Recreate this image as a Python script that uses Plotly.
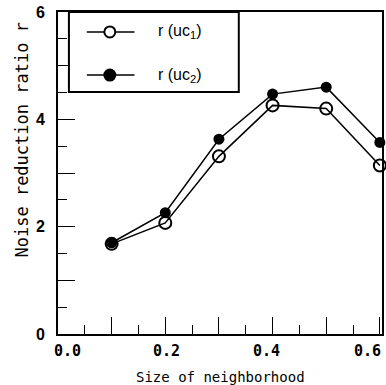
import plotly.graph_objects as go

# data
sizes = [0.1, 0.2, 0.3, 0.4, 0.5, 0.6]
r_uc1 = [1.68, 2.07, 3.31, 4.26, 4.20, 3.14]
r_uc2 = [1.70, 2.26, 3.63, 4.47, 4.60, 3.57]
x_tick_labels = ["0.0", "0.2", "0.4", "0.6"]
x_tick_vals = [0.0, 0.2, 0.4, 0.6]
y_tick_labels = ["0", "2", "4", "6"]
y_tick_vals = [0, 2, 4, 6]
legend_names = ["r (uc<sub>1</sub>)", "r (uc<sub>2</sub>)"]

MONO = "DejaVu Sans Mono"
fig = go.Figure()

fig.add_trace(go.Scatter(x=sizes, y=r_uc1, mode="lines+markers",
                         line=dict(color="black", width=1.5),
                         marker=dict(symbol="circle-open", size=12, color="black",
                                     line=dict(width=2, color="black")),
                         showlegend=False, cliponaxis=False))
fig.add_trace(go.Scatter(x=sizes, y=r_uc2, mode="lines+markers",
                         line=dict(color="black", width=1.5),
                         marker=dict(symbol="circle", size=11, color="black"),
                         showlegend=False, cliponaxis=False))

fig.update_layout(
    width=386, height=385,
    margin=dict(l=58, r=2, t=12, b=51),
    plot_bgcolor="white", paper_bgcolor="white",
    xaxis=dict(range=[0, 0.604], showline=True, linewidth=2, linecolor="black", mirror=True,
               ticks="inside", ticklen=17, tickwidth=1.2, tickcolor="black",
               dtick=0.1, tick0=0, showticklabels=False,
               showgrid=False, zeroline=False,
               minor=dict(dtick=0.05, ticks="inside", ticklen=9, tickwidth=1.2, tickcolor="black")),
    yaxis=dict(range=[0, 6], showline=True, linewidth=2, linecolor="black", mirror=True,
               ticks="inside", ticklen=17, tickwidth=1.2, tickcolor="black",
               dtick=1, tick0=0, showticklabels=False,
               showgrid=False, zeroline=False,
               minor=dict(dtick=0.5, ticks="inside", ticklen=9, tickwidth=1.2, tickcolor="black")),
)

# legend box (white fill, covers ticks)
fig.add_shape(type="rect", xref="paper", yref="paper", x0=0.0337, x1=0.558, y0=0.7516, y1=1.0,
              line=dict(color="black", width=2), fillcolor="white", layer="above")

leg_y = [0.938, 0.804]
for i in range(2):
    fig.add_shape(type="line", xref="paper", yref="paper", x0=0.089, x1=0.236,
                  y0=leg_y[i], y1=leg_y[i], line=dict(color="black", width=1.5), layer="above")
    fig.add_shape(type="circle", xref="paper", yref="paper", xsizemode="pixel", ysizemode="pixel",
                  xanchor=0.160, yanchor=leg_y[i], x0=-5.5, x1=5.5, y0=-5.5, y1=5.5,
                  line=dict(color="black", width=2),
                  fillcolor="white" if i == 0 else "black", layer="above")
    fig.add_annotation(x=0.304, y=leg_y[i], xref="paper", yref="paper", text=legend_names[i],
                       showarrow=False, xanchor="left", yanchor="middle",
                       font=dict(family="Liberation Sans", size=16, color="black"))

# x tick labels
shifts = [9, 1, -6, -12]
for v, t, s in zip(x_tick_vals, x_tick_labels, shifts):
    fig.add_annotation(x=v, y=0, xref="x", yref="paper", text=t, showarrow=False,
                       xanchor="center", yanchor="top", yshift=-6, xshift=s,
                       font=dict(family=MONO, size=15, color="black", weight="bold"))

# y tick labels
for v, t in zip(y_tick_vals, y_tick_labels):
    fig.add_annotation(x=0, y=v, xref="paper", yref="y", text=t, showarrow=False,
                       xanchor="right", yanchor="middle", xshift=-11,
                       font=dict(family="Liberation Sans", size=16, color="black", weight="bold"))

fig.add_annotation(x=0.5, y=-0.133, xref="paper", yref="paper", text="Size of neighborhood",
                   showarrow=False, xanchor="center", yanchor="middle",
                   font=dict(family=MONO, size=14, color="black"))
fig.add_annotation(x=-0.110, y=0.602, xref="paper", yref="paper", text="Noise reduction ratio r",
                   showarrow=False, textangle=-90, xanchor="center", yanchor="middle",
                   font=dict(family=MONO, size=17, color="black"))

fig.write_html("out.html")
